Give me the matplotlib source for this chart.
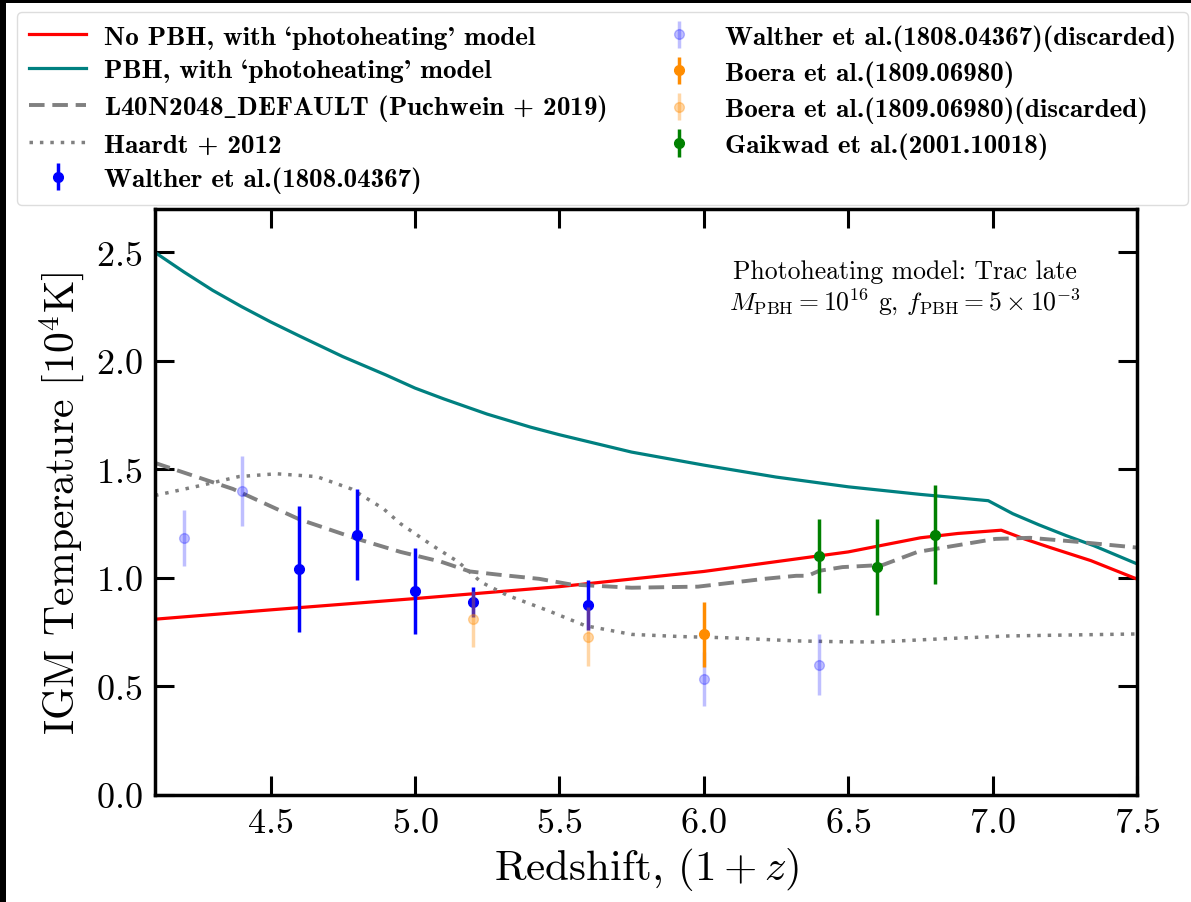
import matplotlib
matplotlib.use("Agg")
import matplotlib.pyplot as plt
from matplotlib.patches import Rectangle

plt.rcParams['font.family'] = 'serif'
plt.rcParams['font.serif'] = ['cmr10', 'DejaVu Serif']
plt.rcParams['mathtext.fontset'] = 'cm'
plt.rcParams['axes.formatter.use_mathtext'] = True

# ---- data ----
pbh_x = [4.1, 4.2, 4.3, 4.4, 4.5, 4.6, 4.75, 4.9, 5.0, 5.1, 5.25, 5.4, 5.5, 5.75, 6.0, 6.25,
         6.5, 6.75, 6.985, 7.07, 7.16, 7.255, 7.35, 7.5]
pbh_y = [2.50, 2.41, 2.325, 2.25, 2.18, 2.115, 2.02, 1.935, 1.875, 1.825, 1.755, 1.695, 1.66,
         1.58, 1.52, 1.465, 1.42, 1.385, 1.356, 1.296, 1.245, 1.195, 1.149, 1.065]

nopbh_x = [4.1, 4.5, 5.0, 5.5, 6.0, 6.25, 6.5, 6.75, 6.88, 7.03, 7.11, 7.2, 7.34, 7.5]
nopbh_y = [0.81, 0.853, 0.905, 0.96, 1.03, 1.075, 1.12, 1.185, 1.205, 1.22, 1.18, 1.14, 1.08, 0.995]

puch_x = [4.1, 4.37, 4.6, 4.8, 4.95, 5.09, 5.19, 5.29, 5.43, 5.54, 5.75, 5.98, 6.21, 6.32,
          6.36, 6.40, 6.48, 6.62, 6.74, 6.83, 7.01, 7.13, 7.29, 7.5]
puch_y = [1.53, 1.41, 1.27, 1.18, 1.12, 1.075, 1.03, 1.015, 0.996, 0.97, 0.955, 0.96, 0.996, 1.01,
          1.01, 1.033, 1.05, 1.06, 1.12, 1.14, 1.18, 1.185, 1.167, 1.14]

haardt_x = [4.1, 4.255, 4.39, 4.52, 4.66, 4.78, 4.89, 4.95, 5.06, 5.15, 5.23, 5.32, 5.46,
            5.59, 5.75, 5.92, 6.09, 6.32, 6.48, 6.6, 6.83, 7.06, 7.5]
haardt_y = [1.38, 1.425, 1.467, 1.48, 1.467, 1.41, 1.32, 1.25, 1.15, 1.074, 0.98, 0.92, 0.85,
            0.78, 0.74, 0.73, 0.724, 0.71, 0.706, 0.705, 0.72, 0.733, 0.742]

walther_x = [4.6, 4.8, 5.0, 5.2, 5.6]
walther_y = [1.04, 1.20, 0.94, 0.89, 0.875]
walther_err = [0.29, 0.21, 0.20, 0.07, 0.115]

walther_d_x = [4.2, 4.4, 6.0, 6.4]
walther_d_y = [1.185, 1.40, 0.535, 0.60]
walther_d_err = [0.13, 0.16, 0.125, 0.14]

boera_x = [6.0]
boera_y = [0.74]
boera_err = [0.15]

boera_d_x = [5.2, 5.6]
boera_d_y = [0.81, 0.73]
boera_d_err = [0.13, 0.135]

gaik_x = [6.4, 6.6, 6.8]
gaik_y = [1.10, 1.05, 1.20]
gaik_err = [0.17, 0.22, 0.23]

# ---- figure ----
fig = plt.figure(figsize=(11.91, 9.03), dpi=100)
fig.patch.set_facecolor('black')
fig.patches.append(Rectangle((6/1191, 0), 1 - 6/1191, 1 - 4/903, transform=fig.transFigure,
                             facecolor='white', edgecolor='none', zorder=-10))

ax = fig.add_axes([155/1191, (903-796)/903, (1137-155)/1191, (796-210)/903])

ax.plot(nopbh_x, nopbh_y, color='red', lw=2.3, label=r"No PBH, with `photoheating' model")
ax.plot(pbh_x, pbh_y, color='teal', lw=2.3, label=r"PBH, with `photoheating' model")
ax.plot(puch_x, puch_y, color='gray', lw=2.8, ls=(0, (4, 2)),
        label=r"L40N2048$\mathbf{\_}$DEFAULT (Puchwein + 2019)")
ax.plot(haardt_x, haardt_y, color='gray', lw=2.5, ls=(0, (1, 2)), label="Haardt + 2012")

ekw = dict(fmt='o', ms=7, elinewidth=2.5, capsize=0)
ax.errorbar(walther_x, walther_y, yerr=walther_err, color='blue', label="Walther et al.(1808.04367)", zorder=5, **ekw)
ax.errorbar(walther_d_x, walther_d_y, yerr=walther_d_err, color='blue', alpha=0.25,
            label="Walther et al.(1808.04367)(discarded)", **ekw)
ax.errorbar(boera_x, boera_y, yerr=boera_err, color='darkorange', label="Boera et al.(1809.06980)", zorder=5, **ekw)
ax.errorbar(boera_d_x, boera_d_y, yerr=boera_d_err, color='darkorange', alpha=0.35,
            label="Boera et al.(1809.06980)(discarded)", zorder=6, **ekw)
ax.errorbar(gaik_x, gaik_y, yerr=gaik_err, color='green', label="Gaikwad et al.(2001.10018)", zorder=5, **ekw)

ax.set_xlim(4.1, 7.5)
ax.set_ylim(0, 2.7)
ax.set_xticks([4.5, 5.0, 5.5, 6.0, 6.5, 7.0, 7.5])
ax.set_yticks([0.0, 0.5, 1.0, 1.5, 2.0, 2.5])
ax.tick_params(direction='in', length=14, width=2.2, labelsize=26, top=True, right=True, pad=9)
for s in ax.spines.values():
    s.set_linewidth(2.5)

ax.set_xlabel(r'Redshift, $(1+z)$', fontsize=31, labelpad=4)
ax.set_ylabel(r'IGM Temperature $[10^4\mathrm{K}]$', fontsize=30, labelpad=6)

ax.text(0.764, 0.915, 'Photoheating model: Trac late\n'
        r'$M_{\rm PBH} = 10^{16}$ g, $f_{\rm PBH} = 5 \times 10^{-3}$',
        transform=ax.transAxes, ha='center', va='top', fontsize=18.5, linespacing=1.1)

h, l = ax.get_legend_handles_labels()
leg = fig.legend(h, l, loc='upper left', ncol=2, mode='expand',
                 bbox_to_anchor=(17/1191, 1 - 13/903, (1188-17)/1191, 0.0),
                 prop={'family': ['cmb10', 'DejaVu Serif'], 'size': 19.5},
                 handlelength=2.1, handletextpad=0.65, labelspacing=0.36,
                 borderpad=0.45, borderaxespad=0, frameon=True, fancybox=True,
                 edgecolor='#dddddd', framealpha=1)

fig.savefig('out.png', dpi=100, facecolor=fig.get_facecolor())
